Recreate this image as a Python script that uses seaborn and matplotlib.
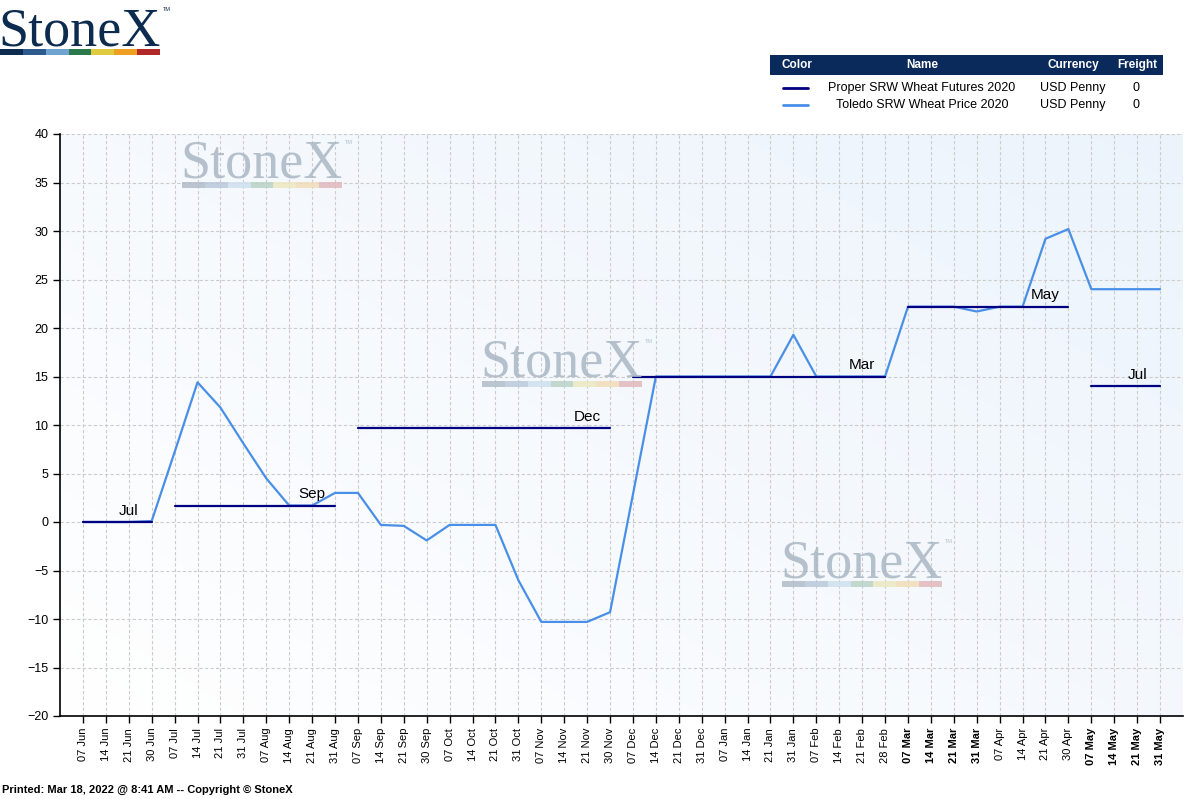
import numpy as np
import pandas as pd
import seaborn as sns
import matplotlib.pyplot as plt
from matplotlib.patches import Rectangle

dates = ["07 Jun", "14 Jun", "21 Jun", "30 Jun", "07 Jul", "14 Jul", "21 Jul", "31 Jul",
         "07 Aug", "14 Aug", "21 Aug", "31 Aug", "07 Sep", "14 Sep", "21 Sep", "30 Sep",
         "07 Oct", "14 Oct", "21 Oct", "31 Oct", "07 Nov", "14 Nov", "21 Nov", "30 Nov",
         "07 Dec", "14 Dec", "21 Dec", "31 Dec", "07 Jan", "14 Jan", "21 Jan", "31 Jan",
         "07 Feb", "14 Feb", "21 Feb", "28 Feb", "07 Mar", "14 Mar", "21 Mar", "31 Mar",
         "07 Apr", "14 Apr", "21 Apr", "30 Apr", "07 May", "14 May", "21 May", "31 May"]

toledo = [0.0, 0.0, 0.0, 0.1, 7.2, 14.4, 11.8, 8.1,
          4.5, 1.7, 1.7, 3.0, 3.0, -0.3, -0.4, -1.9,
          -0.3, -0.3, -0.3, -6.0, -10.3, -10.3, -10.3, -9.3,
          2.85, 15.0, 15.0, 15.0, 15.0, 15.0, 15.0, 19.3,
          15.0, 15.0, 15.0, 15.0, 22.2, 22.2, 22.2, 21.7,
          22.2, 22.2, 29.2, 30.2, 24.0, 24.0, 24.0, 24.0]

# futures contract segments: label, first index, last index, value
contracts = ["Jul", "Sep", "Dec", "Mar", "May", "Jul"]
seg_start = [0, 4, 12, 24, 36, 44]
seg_end = [3, 11, 23, 35, 43, 47]
seg_value = [0.0, 1.7, 9.7, 15.0, 22.2, 14.0]

NAVY = "#000080"
LIGHT = "#4a8fe7"

sns.set_theme(style="white")
plt.rcParams["font.family"] = ["Liberation Sans", "DejaVu Sans"]

fig = plt.figure(figsize=(11.86, 7.99), dpi=100)
ax = fig.add_axes([60 / 1186, 1 - 716 / 799, 1123 / 1186, 582 / 799])

# light gradient background
gx, gy = np.meshgrid(np.linspace(0, 1, 200), np.linspace(0, 1, 200))
g = np.clip(0.55 * gx + 0.45 * (1 - gy), 0, 1)
c0 = np.array([1.0, 1.0, 1.0])
c1 = np.array([0.925, 0.955, 0.988])
img = c0[None, None, :] * (1 - g[..., None]) + c1[None, None, :] * g[..., None]
ax.imshow(img, extent=[0, 1, 0, 1], transform=ax.transAxes, aspect="auto",
          origin="upper", zorder=0)

x = np.arange(len(dates))
df_t = pd.DataFrame({"x": x, "value": toledo})
sns.lineplot(data=df_t, x="x", y="value", color=LIGHT, linewidth=1.6, ax=ax, zorder=3)

for name, s, e, v in zip(contracts, seg_start, seg_end, seg_value):
    seg = pd.DataFrame({"x": [s, e], "value": [v, v]})
    sns.lineplot(data=seg, x="x", y="value", color=NAVY, linewidth=1.6, ax=ax, zorder=4)
    ax.annotate(name, (e - 1, v), xytext=(0, 3), textcoords="offset points",
                ha="center", va="bottom", fontsize=11, color="black", zorder=5)

ax.set_xlim(-1, len(dates))
ax.set_ylim(-20, 40)
ax.set_yticks(range(-20, 41, 5))
ax.set_xticks(x)
ax.set_xticklabels(dates, rotation=90, fontsize=8)
for lbl in ax.get_xticklabels():
    if "Mar" in lbl.get_text() or "May" in lbl.get_text():
        lbl.set_fontweight("bold")
ax.tick_params(axis="y", labelsize=9, direction="out", length=5, width=1, colors="black",
               left=True)
ax.tick_params(axis="x", direction="out", length=5, width=1, colors="black", bottom=True)
ax.set_xlabel("")
ax.set_ylabel("")
ax.grid(True, color="#cccccc", linestyle=(0, (3, 2)), linewidth=0.8)
ax.set_axisbelow(True)
for sp in ["top", "right"]:
    ax.spines[sp].set_visible(False)
for sp in ["left", "bottom"]:
    ax.spines[sp].set_color("black")
    ax.spines[sp].set_linewidth(1.2)

stripe_full = ["#0d2b4e", "#2e5a8e", "#6fa3d0", "#2a7a4e", "#e0cb40", "#f0a020", "#b02828"]
stripe_faded = ["#b0bcc8", "#b8c8da", "#cfe0ee", "#b9d2c6", "#ece8c0", "#f2dcb8", "#e2b8bc"]


def px(xp, yp):
    return xp / 1186, 1 - yp / 799


def logo(x0, y0, color, stripe, alpha=1.0):
    tx, ty = px(x0 - 2, y0 + 42)
    fig.text(tx, ty, "StoneX", family="Liberation Serif", fontsize=39, color=color,
             alpha=alpha, va="baseline", ha="left", zorder=2)
    mx, my = px(x0 + 163, y0 + 4)
    fig.text(mx, my, "TM", fontsize=4, color=color, alpha=alpha, va="top", zorder=2)
    w = 160 / 7
    for i, c in enumerate(stripe):
        rx, ry = px(x0 + i * w, y0 + 52)
        fig.patches.append(Rectangle((rx, ry), w / 1186, 6 / 799, transform=fig.transFigure,
                                     facecolor=c, edgecolor="none", alpha=alpha, zorder=2))


logo(0, 3, "#0d2b4e", stripe_full)
for wx, wy in [(182, 136), (482, 335), (782, 535)]:
    logo(wx, wy, "#a9b6c3", stripe_faded, alpha=0.85)

# legend table
hx, hy = px(770, 75)
fig.patches.append(Rectangle((hx, hy), 393 / 1186, 20 / 799, transform=fig.transFigure,
                             facecolor="#0a2a5c", edgecolor="none"))
for label, xc in [("Color", 797), ("Name", 922), ("Currency", 1073), ("Freight", 1137)]:
    tx, ty = px(xc, 65)
    fig.text(tx, ty, label, color="white", fontsize=8.5, fontweight="bold",
             ha="center", va="center")

rows = [("Proper SRW Wheat Futures 2020", NAVY), ("Toledo SRW Wheat Price 2020", LIGHT)]
for i, (name, col) in enumerate(rows):
    yrow = 88 + i * 17
    lx0, ly = px(783, yrow)
    lx1, _ = px(808, yrow)
    fig.add_artist(plt.Line2D([lx0, lx1], [ly, ly], color=col, linewidth=2,
                              transform=fig.transFigure))
    tx, ty = px(922, yrow)
    fig.text(tx, ty, name, fontsize=9, ha="center", va="center", color="black")
    tx, ty = px(1073, yrow)
    fig.text(tx, ty, "USD Penny", fontsize=9, ha="center", va="center", color="black")
    tx, ty = px(1136, yrow)
    fig.text(tx, ty, "0", fontsize=9, ha="center", va="center", color="black")

fx, fy = px(2, 790)
fig.text(fx, fy, "Printed: Mar 18, 2022 @ 8:41 AM -- Copyright \u00a9 StoneX", fontsize=8,
         fontweight="bold", ha="left", va="center", color="black")

fig.savefig("out.png", dpi=100)
